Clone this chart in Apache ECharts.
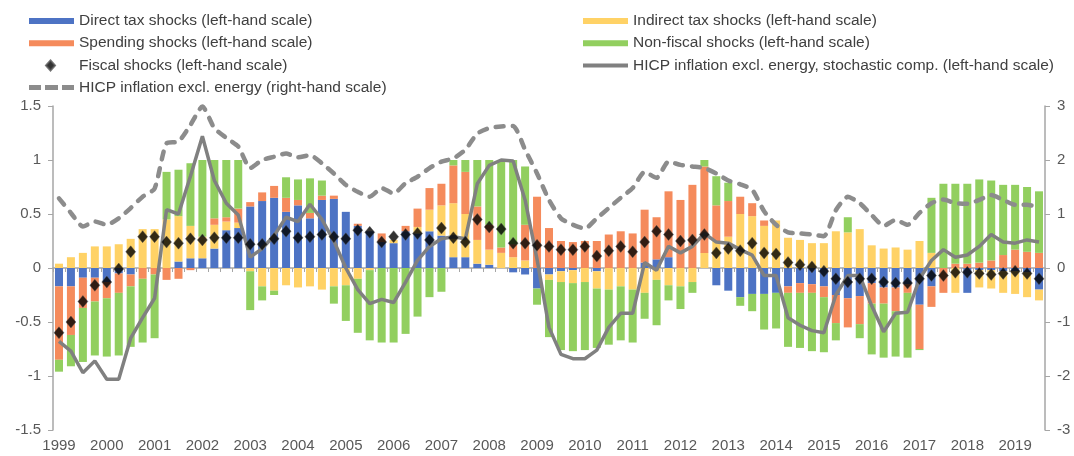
<!DOCTYPE html>
<html>
<head>
<meta charset="utf-8">
<script src="https://cdn.jsdelivr.net/npm/echarts@6/dist/echarts.min.js"></script>
<style>
  html, body { margin: 0; padding: 0; background: #fff; }
  #main { width: 1074px; height: 456px; }
</style>
</head>
<body>
<div id="main"></div>
<script>
// years on the axis, one label per Q1
var years = [1999, 2000, 2001, 2002, 2003, 2004, 2005, 2006, 2007, 2008, 2009,
  2010, 2011, 2012, 2013, 2014, 2015, 2016, 2017, 2018, 2019];
var quarters = ['Q1', 'Q2', 'Q3', 'Q4'];

// shock decomposition, 1999Q1 - 2019Q3
var directTax = [
  -0.17, -0.17, -0.09, -0.09, -0.13, -0.05, -0.06, 0, 0, 0,
  0.06, 0.09, 0.09, 0.18, 0.35, 0.37, 0.57, 0.62, 0.65, 0.52,
  0.58, 0.46, 0.63, 0.64, 0.52, 0.39, 0.34, 0.24, 0.23, 0.34,
  0.32, 0.34, 0.30, 0.10, 0.10, 0.04, 0.03, 0, -0.04, -0.06,
  -0.19, -0.06, -0.03, -0.02, 0, -0.03, 0, 0, 0, 0.05,
  0.08, 0.10, 0, 0, 0, -0.16, -0.21, -0.27, -0.24, -0.24,
  -0.23, -0.17, -0.14, -0.15, -0.17, -0.25, -0.28, -0.26, -0.14, -0.18,
  -0.18, -0.15, -0.34, -0.17, 0, 0, -0.23, -0.02, -0.02, -0.03,
  -0.03, -0.04, -0.20
];
var indirectTax = [
  0.04, 0.10, 0.14, 0.20, 0.20, 0.22, 0.27, 0.36, 0.36, 0.45,
  0.42, 0.30, 0.20, 0.22, 0.08, 0.05, -0.03, -0.17, -0.21, -0.16,
  -0.18, -0.17, -0.20, -0.17, -0.16, -0.10, -0.02, 0, 0.03, 0,
  0.06, 0.20, 0.28, 0.50, 0.40, 0.22, 0.14, 0.14, 0.10, 0.07,
  0, -0.05, -0.10, -0.12, -0.13, -0.16, -0.20, -0.17, -0.20, -0.23,
  -0.11, -0.16, -0.17, -0.13, 0.14, 0.25, 0.29, 0.50, 0.48, 0.39,
  0.44, 0.28, 0.26, 0.23, 0.23, 0.34, 0.33, 0.36, 0.21, 0.18,
  0.19, 0.17, 0.25, 0.14, 0, -0.23, 0, -0.16, -0.17, -0.20,
  -0.21, -0.23, -0.10
];
var spending = [
  -0.68, -0.45, -0.28, -0.22, -0.15, -0.18, -0.11, -0.10, -0.06, -0.11,
  -0.10, -0.02, 0, 0.06, 0.04, 0.13, 0.04, 0.08, 0.11, 0.13,
  0.05, 0.05, 0.04, 0.03, 0, 0.02, 0, 0.08, 0, 0.05,
  0.17, 0.20, 0.20, 0.35, 0.39, 0.31, 0.23, 0.05, 0.12, 0.33,
  0.66, 0.37, 0.25, 0.24, 0.25, 0.25, 0.31, 0.34, 0.32, 0.49,
  0.39, 0.61, 0.63, 0.77, 0.80, 0.33, 0.33, 0.16, 0.12, 0.05,
  0, -0.06, -0.09, -0.08, -0.10, -0.26, -0.27, -0.26, -0.19, -0.15,
  -0.22, -0.08, -0.41, -0.19, -0.23, 0.04, 0.04, 0.05, 0.07, 0.12,
  0.17, 0.15, 0.14
];
var nonFiscal = [
  -0.11, -0.29, -0.50, -0.50, -0.54, -0.58, -0.56, -0.59, -0.59, 0.44,
  0.43, 0.58, 0.71, 0.54, 0.53, 0.45, -0.36, -0.13, -0.04, 0.19,
  0.19, 0.32, 0.14, -0.16, -0.33, -0.50, -0.65, -0.69, -0.69, -0.61,
  -0.45, -0.27, -0.22, 0.05, 0.11, 0.43, 0.60, 0.81, 0.78, 0.54,
  -0.15, -0.53, -0.63, -0.63, -0.63, -0.55, -0.51, -0.50, -0.49, -0.24,
  -0.42, -0.14, -0.21, -0.10, 0.06, 0.27, 0.17, -0.08, -0.16, -0.33,
  -0.33, -0.50, -0.51, -0.54, -0.51, -0.16, 0.14, -0.13, -0.47, -0.50,
  -0.42, -0.60, -0.01, 0.51, 0.78, 0.74, 0.74, 0.77, 0.74, 0.65,
  0.60, 0.60, 0.57
];
var fiscal = [
  -0.60, -0.50, -0.31, -0.16, -0.13, -0.01, 0.15, 0.29, 0.29, 0.24,
  0.23, 0.27, 0.26, 0.28, 0.28, 0.28, 0.22, 0.22, 0.27, 0.34,
  0.28, 0.29, 0.31, 0.29, 0.27, 0.35, 0.33, 0.24, 0.29, 0.31,
  0.32, 0.26, 0.37, 0.28, 0.24, 0.45, 0.38, 0.36, 0.23, 0.23,
  0.21, 0.20, 0.17, 0.17, 0.20, 0.11, 0.16, 0.20, 0.15, 0.24,
  0.34, 0.31, 0.25, 0.26, 0.31, 0.14, 0.18, 0.16, 0.23, 0.14,
  0.13, 0.05, 0.03, 0.01, -0.03, -0.10, -0.13, -0.10, -0.10, -0.13,
  -0.14, -0.14, -0.10, -0.07, -0.07, -0.04, -0.04, -0.05, -0.06, -0.05,
  -0.03, -0.05, -0.10
];
var stochastic = [
  -0.68, -0.77, -0.97, -0.86, -1.03, -1.03, -0.65, -0.46, -0.28, 0.54,
  0.50, 0.85, 1.22, 0.81, 0.60, 0.49, 0.10, 0.18, 0.30, 0.47,
  0.43, 0.59, 0.45, 0.25, 0.0, -0.20, -0.33, -0.29, -0.32, -0.13,
  0.07, 0.20, 0.27, 0.29, 0.27, 0.78, 0.95, 1.00, 0.99, 0.63,
  0.08, -0.55, -0.80, -0.84, -0.84, -0.76, -0.55, -0.42, -0.42, 0.05,
  -0.02, 0.20, 0.14, 0.20, 0.32, 0.24, 0.23, 0.17, 0.12, -0.07,
  -0.07, -0.46, -0.53, -0.58, -0.60, -0.25, -0.07, -0.07, -0.35, -0.59,
  -0.42, -0.41, -0.10, 0.07, 0.17, 0.10, 0.12, 0.20, 0.31, 0.24,
  0.23, 0.26, 0.24
];
// right-hand scale
var hicpExEnergy = [
  1.29, 1.02, 0.77, 0.86, 0.80, 0.92, 1.11, 1.32, 1.47, 2.31,
  2.34, 2.65, 2.99, 2.59, 2.41, 2.25, 1.85, 2.00, 2.06, 2.12,
  2.05, 2.09, 1.94, 1.75, 1.54, 1.41, 1.32, 1.48, 1.38, 1.57,
  1.69, 1.85, 1.97, 2.03, 2.19, 2.49, 2.59, 2.62, 2.63, 2.19,
  1.75, 1.26, 0.92, 0.80, 0.73, 0.92, 1.11, 1.30, 1.48, 1.78,
  1.67, 1.97, 1.91, 1.88, 1.85, 1.75, 1.62, 1.55, 1.45, 1.05,
  0.80, 0.66, 0.64, 0.62, 0.59, 1.07, 1.32, 1.20, 0.98, 0.78,
  0.89, 0.80, 1.02, 1.20, 1.27, 1.20, 1.19, 1.26, 1.35, 1.26,
  1.17, 1.17, 1.13
];

var categories = [];
years.forEach(function(y) {
  quarters.forEach(function(q) {
    categories.push(y + q);
  });
});
categories = categories.slice(0, directTax.length);

var FONT = 'Liberation Sans';
var TXT = '#595959';
var AXIS = '#a6a6a6';

// legend icons, all drawn in the same 45x10 box
var ICON_BAR = 'path://M0,0M45,10M0,2H45V8H0Z';
var ICON_DIAMOND = 'path://M0,0M45,10M21.5,0L26,5L21.5,10L17,5Z';
var ICON_SOLID = 'path://M0,0M45,10M0,3H45V7H0Z';
var ICON_DASH = 'path://M0,0M45,10M0,2.5H12V7.5H0Z M16,2.5H29V7.5H16Z M33,2.5H45V7.5H33Z';

var myChart = echarts.init(document.getElementById('main'));

function barSeries(name, data, color) {
  return {
    name: name,
    type: 'bar',
    stack: 'shocks',
    data: data,
    barCategoryGap: '33%',
    itemStyle: { color: color },
    z: 2
  };
}

var legendText = { fontSize: 15.5, color: '#404040', fontFamily: FONT, lineHeight: 16 };

var option = {
  animation: false,
  textStyle: { fontFamily: FONT },
  legend: [{
    orient: 'vertical',
    left: 28,
    top: 13,
    padding: 0,
    itemWidth: 45,
    itemHeight: 10,
    itemGap: 6.2,
    symbolKeepAspect: false,
    textStyle: legendText,
    data: [
      { name: 'Direct tax shocks (left-hand scale)', icon: ICON_BAR },
      { name: 'Spending shocks (left-hand scale)', icon: ICON_BAR },
      { name: 'Fiscal shocks (left-hand scale)', icon: ICON_DIAMOND },
      { name: 'HICP inflation excl. energy (right-hand scale)', icon: ICON_DASH }
    ]
  }, {
    orient: 'vertical',
    left: 583,
    top: 13,
    padding: 0,
    itemWidth: 45,
    itemHeight: 10,
    itemGap: 6.2,
    symbolKeepAspect: false,
    textStyle: legendText,
    data: [
      { name: 'Indirect tax shocks (left-hand scale)', icon: ICON_BAR },
      { name: 'Non-fiscal shocks (left-hand scale)', icon: ICON_BAR },
      { name: 'HICP inflation excl. energy, stochastic comp. (left-hand scale)', icon: ICON_SOLID }
    ]
  }],
  grid: {
    left: 53,
    right: 29,
    top: 106,
    bottom: 26,
    containLabel: false
  },
  xAxis: [{
    type: 'category',
    data: categories,
    boundaryGap: true,
    position: 'bottom',
    axisLine: { show: false, onZero: false },
    axisTick: { show: false },
    axisLabel: {
      interval: 3,
      margin: 8,
      fontSize: 15,
      color: TXT,
      fontFamily: FONT,
      formatter: function(v) { return v.slice(0, 4); }
    }
  }, {
    // zero line with quarterly ticks
    type: 'category',
    data: categories,
    boundaryGap: true,
    position: 'bottom',
    axisLine: { show: true, onZero: true, onZeroAxisIndex: 0, lineStyle: { color: AXIS, width: 1.5 } },
    axisTick: { show: true, interval: 0, length: 4, lineStyle: { color: AXIS } },
    axisLabel: { show: false }
  }],
  yAxis: [{
    type: 'value',
    min: -1.5,
    max: 1.5,
    interval: 0.5,
    axisLine: { show: true, lineStyle: { color: AXIS, width: 1.5 } },
    axisTick: { show: true, length: 5, lineStyle: { color: AXIS } },
    splitLine: { show: false },
    axisLabel: { fontSize: 15, color: TXT, fontFamily: FONT, margin: 12 }
  }, {
    type: 'value',
    min: -3,
    max: 3,
    interval: 1,
    position: 'right',
    axisLine: { show: true, lineStyle: { color: AXIS, width: 1.5 } },
    axisTick: { show: true, length: 5, lineStyle: { color: AXIS } },
    splitLine: { show: false },
    axisLabel: { fontSize: 15, color: TXT, fontFamily: FONT, margin: 12 }
  }],
  series: [
    barSeries('Direct tax shocks (left-hand scale)', directTax, '#4d73c4'),
    barSeries('Indirect tax shocks (left-hand scale)', indirectTax, '#ffd266'),
    barSeries('Spending shocks (left-hand scale)', spending, '#f58b5c'),
    barSeries('Non-fiscal shocks (left-hand scale)', nonFiscal, '#92cf5f'),
    {
      name: 'HICP inflation excl. energy, stochastic comp. (left-hand scale)',
      type: 'line',
      data: stochastic,
      symbol: 'none',
      lineStyle: { color: '#808080', width: 3.5 },
      itemStyle: { color: '#808080' },
      z: 4
    },
    {
      name: 'HICP inflation excl. energy (right-hand scale)',
      type: 'line',
      yAxisIndex: 1,
      data: hicpExEnergy,
      symbol: 'none',
      smooth: 0.2,
      lineStyle: { color: '#8c8c8c', width: 4.5, type: [8, 9], cap: 'round' },
      itemStyle: { color: '#8c8c8c' },
      z: 4
    },
    {
      name: 'Fiscal shocks (left-hand scale)',
      type: 'scatter',
      data: fiscal,
      symbol: 'diamond',
      symbolSize: [10, 12],
      itemStyle: { color: '#000000', borderColor: '#555', borderWidth: 0.5 },
      z: 6
    }
  ]
};

myChart.setOption(option);
</script>
</body>
</html>
